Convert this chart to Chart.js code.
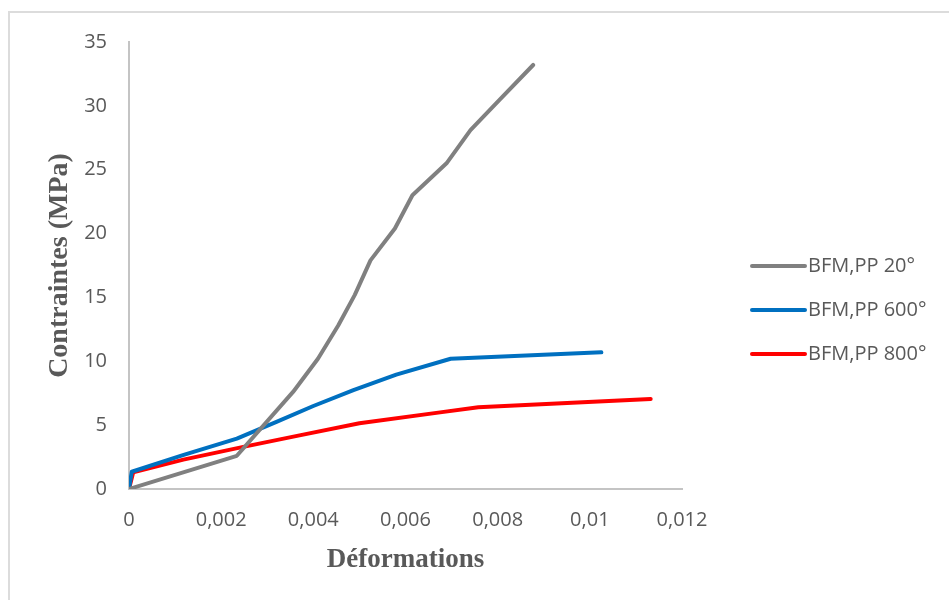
<!DOCTYPE html>
<html>
<head>
<meta charset="utf-8">
<script src="https://cdn.jsdelivr.net/npm/chart.js@4.4.1/dist/chart.umd.min.js"></script>
<style>
  html, body { margin: 0; padding: 0; background: #fff; overflow: hidden; }
  #wrap { position: relative; width: 949px; height: 600px; }
  #frame { position: absolute; left: 8px; top: 11px; width: 1000px; height: 700px;
           border-left: 2px solid #dcdcdc; border-top: 2px solid #dcdcdc; pointer-events: none; }
  canvas { position: absolute; left: 0; top: 0; }
</style>
</head>
<body>
<div id="wrap">
  <canvas id="myChart" width="949" height="600"></canvas>
  <div id="frame"></div>
</div>
<script>
// values
const seriesNames = ["BFM,PP 20°", "BFM,PP 600°", "BFM,PP 800°"];
const seriesColors = ["#808080", "#0070c0", "#ff0000"];

const strain20 = [0, 0.00234, 0.00356, 0.0041, 0.00454, 0.0049, 0.00524, 0.00577, 0.00615, 0.00689, 0.00741, 0.00805, 0.00877];
const stress20 = [0, 2.6, 7.6, 10.2, 12.8, 15.2, 17.9, 20.4, 23.0, 25.5, 28.1, 30.5, 33.2];

const strain600 = [0, 0.00006, 0.00117, 0.00234, 0.0032, 0.004, 0.00487, 0.0058, 0.00698, 0.01025];
const stress600 = [0, 1.35, 2.65, 3.95, 5.25, 6.5, 7.75, 8.95, 10.2, 10.7];

const strain800 = [0, 0.00009, 0.00118, 0.00248, 0.0037, 0.005, 0.00675, 0.00758, 0.01132];
const stress800 = [0, 1.3, 2.3, 3.3, 4.2, 5.15, 6.0, 6.4, 7.05];

const xTicks = [0, 0.002, 0.004, 0.006, 0.008, 0.01, 0.012];

function toPoints(xs, ys) {
  return xs.map((x, i) => ({ x: x, y: ys[i] }));
}

const allX = [strain20, strain600, strain800];
const allY = [stress20, stress600, stress800];

const tickColor = "#595959";
const axisColor = "#c4c4c4";

// legend drawn next to the plot, line sample + label
const sideLegend = {
  id: "sideLegend",
  afterDraw(chart) {
    const ctx = chart.ctx;
    const rowY = [266, 310, 354];
    ctx.save();
    chart.data.datasets.forEach((ds, i) => {
      ctx.strokeStyle = ds.borderColor;
      ctx.lineWidth = 4;
      ctx.lineCap = "round";
      ctx.beginPath();
      ctx.moveTo(752, rowY[i]);
      ctx.lineTo(805, rowY[i]);
      ctx.stroke();
      ctx.fillStyle = tickColor;
      ctx.font = "20px 'Open Sans'";
      ctx.textBaseline = "middle";
      ctx.textAlign = "left";
      ctx.fillText(ds.label, 808, rowY[i]);
    });
    ctx.restore();
  },
};

const myChart = new Chart(document.getElementById("myChart"), {
  type: "line",
  data: {
    datasets: seriesNames.map((name, i) => ({
      label: name,
      data: toPoints(allX[i], allY[i]),
      borderColor: seriesColors[i],
      backgroundColor: seriesColors[i],
      borderWidth: 4,
      pointRadius: 0,
      fill: false,
      tension: 0,
      borderCapStyle: "round",
      borderJoinStyle: "round",
    })),
  },
  options: {
    responsive: false,
    animation: false,
    layout: { padding: { left: 30, top: 42, right: 267, bottom: 0 } },
    plugins: {
      legend: { display: false },
      tooltip: { enabled: false },
    },
    scales: {
      x: {
        type: "linear",
        min: 0,
        max: 0.012,
        afterBuildTicks: (scale) => {
          scale.ticks = xTicks.map((v) => ({ value: v }));
        },
        afterFit: (scale) => {
          scale.height = 111;
        },
        grid: { display: false, drawTicks: false },
        border: { display: true, color: axisColor, width: 2 },
        ticks: {
          color: tickColor,
          font: { family: "'Open Sans'", size: 20 },
          padding: 19,
          maxRotation: 0,
          callback: (v) => String(Number(v.toFixed(4))).replace(".", ","),
        },
        title: {
          display: true,
          text: "Déformations",
          color: tickColor,
          font: { family: "'Liberation Serif'", size: 27, weight: "bold" },
          padding: { top: 0, bottom: 24 },
        },
      },
      y: {
        min: 0,
        max: 35,
        afterFit: (scale) => {
          scale.width = 99;
        },
        grid: { display: false, drawTicks: false },
        border: { display: true, color: axisColor, width: 2 },
        ticks: {
          stepSize: 5,
          color: tickColor,
          font: { family: "'Open Sans'", size: 20 },
          padding: 22,
        },
        title: {
          display: true,
          text: "Contraintes (MPa)",
          color: tickColor,
          font: { family: "'Liberation Serif'", size: 28, weight: "bold" },
          padding: { top: 13, bottom: 0 },
        },
      },
    },
  },
  plugins: [sideLegend],
});
</script>
</body>
</html>
